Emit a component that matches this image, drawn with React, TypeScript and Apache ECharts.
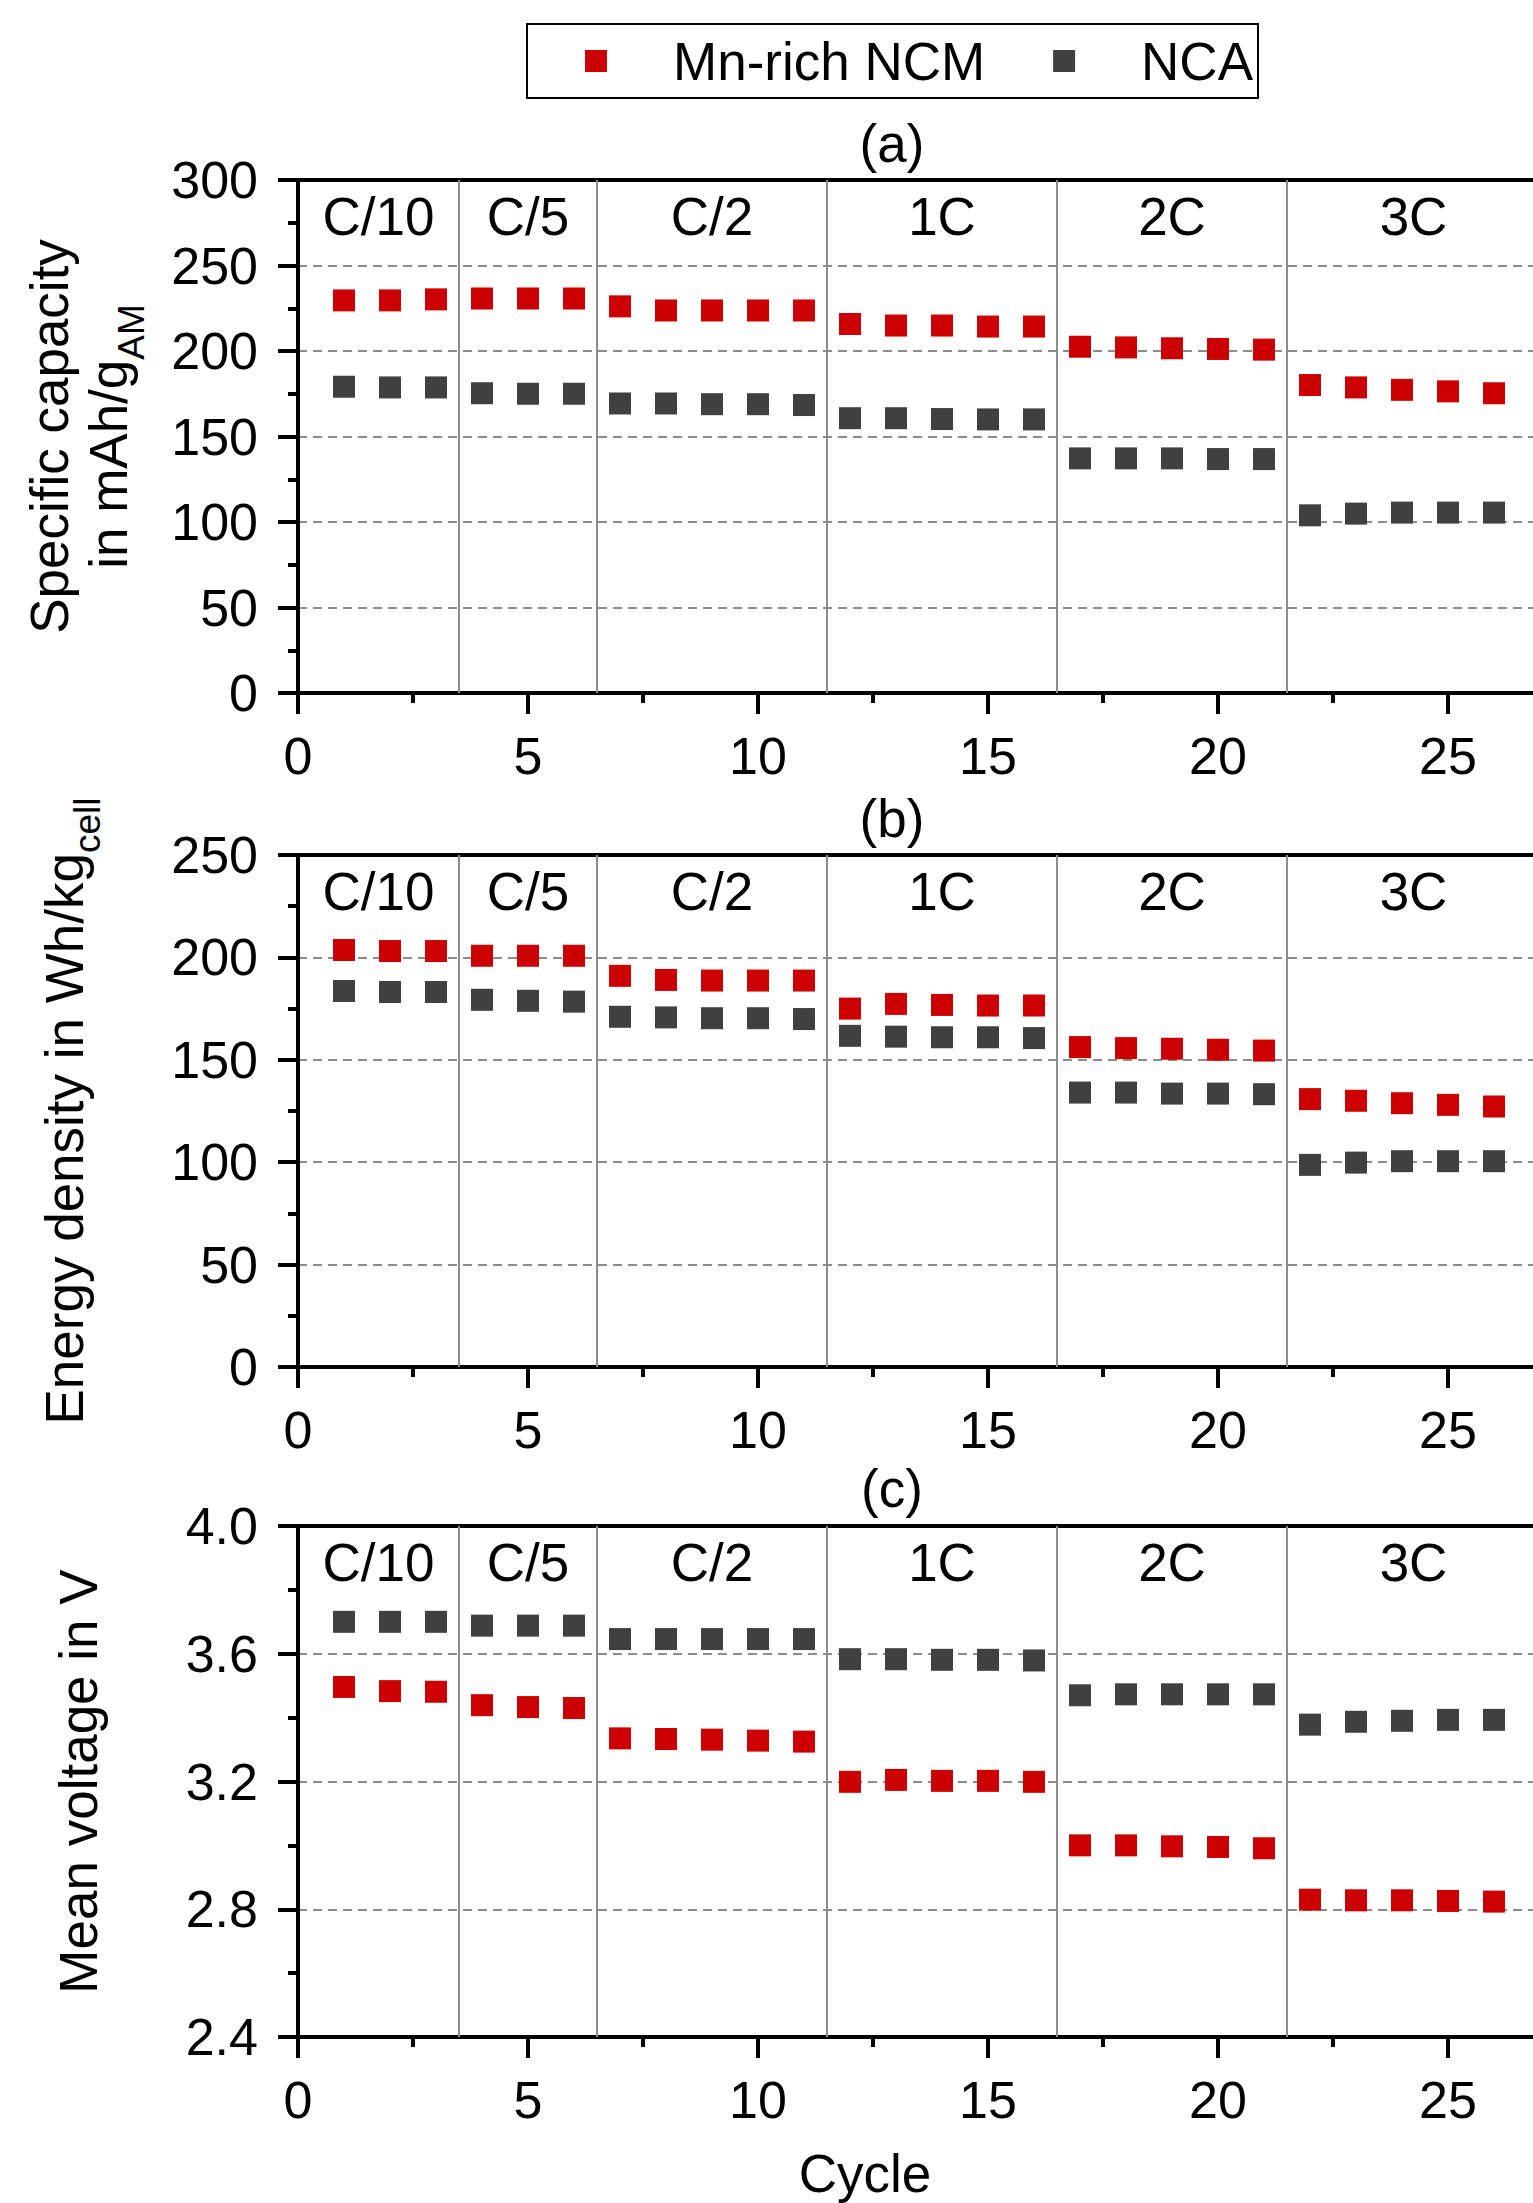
import React, { useEffect, useRef } from "react";
import * as echarts from "echarts";

// ---------------- data ----------------
const cycles = [1, 2, 3, 4, 5, 6, 7, 8, 9, 10, 11, 12, 13, 14, 15, 16, 17, 18, 19, 20, 21, 22, 23, 24, 25, 26];

const capacityNCM = [229.6, 229.6, 230.2, 230.7, 230.7, 230.7, 226.1, 223.7, 223.7, 223.7, 223.7, 215.8, 214.9, 214.9, 214.3, 214.3, 202.5, 202.1, 201.6, 201.2, 200.8, 180.1, 178.7, 177.3, 176.4, 175.3];
const capacityNCA = [179.1, 178.7, 178.7, 175.3, 175.0, 175.0, 169.3, 169.3, 168.9, 168.9, 168.4, 160.7, 160.7, 160.2, 160.0, 160.0, 137.2, 137.2, 137.2, 136.8, 136.8, 103.9, 104.9, 105.5, 105.5, 105.5];

const energyNCM = [203.6, 203.1, 203.1, 200.8, 200.8, 200.8, 191.0, 189.0, 188.7, 188.7, 188.7, 175.0, 177.3, 176.8, 176.5, 176.5, 156.2, 155.7, 155.4, 154.9, 154.5, 130.8, 130.0, 128.8, 128.0, 127.2];
const energyNCA = [183.6, 183.1, 183.1, 179.3, 178.8, 178.4, 171.0, 170.7, 170.3, 170.3, 169.9, 161.7, 161.3, 161.0, 161.0, 160.6, 134.0, 134.0, 133.5, 133.5, 133.2, 98.7, 99.8, 100.5, 100.5, 100.5];

const voltageNCM = [3.496, 3.483, 3.481, 3.439, 3.433, 3.43, 3.335, 3.333, 3.331, 3.328, 3.325, 3.199, 3.205, 3.202, 3.202, 3.199, 3.0, 3.0, 2.997, 2.995, 2.991, 2.83, 2.828, 2.828, 2.826, 2.824];
const voltageNCA = [3.7, 3.7, 3.7, 3.688, 3.688, 3.688, 3.646, 3.646, 3.646, 3.646, 3.646, 3.583, 3.583, 3.581, 3.581, 3.579, 3.47, 3.473, 3.473, 3.473, 3.473, 3.378, 3.387, 3.39, 3.393, 3.393];

const rateLabels = ["C/10", "C/5", "C/2", "1C", "2C", "3C"];
const rateBoundaries = [3.5, 6.5, 11.5, 16.5, 21.5];
const seriesNames = ["Mn-rich NCM", "NCA"];
const panelLabels = ["(a)", "(b)", "(c)"];

// ---------------- style ----------------
const FONT = "'Liberation Sans', Arial, sans-serif";
const RED = "#CC0000";
const GREY = "#404040";
const SEP = "#8c8c8c";

const panels = [
  {
    top: 180, height: 513, min: 0, max: 300, interval: 50, ncm: capacityNCM, nca: capacityNCA,
    name: "{m|Specific capacity}\n{m|in mAh/g}{s|AM}", nameGap: 160, fmt: (v: number) => String(v),
    labelY: 143,
  },
  {
    top: 855, height: 512, min: 0, max: 250, interval: 50, ncm: energyNCM, nca: energyNCA,
    name: "{m|Energy density in Wh/kg}{s|cell}", nameGap: 204, fmt: (v: number) => String(v),
    labelY: 818,
  },
  {
    top: 1526, height: 511, min: 2.4, max: 4.0, interval: 0.4, ncm: voltageNCM, nca: voltageNCA,
    name: "{m|Mean voltage in V}", nameGap: 190, fmt: (v: number) => v.toFixed(1),
    labelY: 1488,
  },
];

const X_MAX = 30;
const GRID_LEFT = 298;
const PX_PER_CYCLE = 46;
const CANVAS_W = 1760;

function buildOption() {
  const edges = [cycles[0] - 1, ...rateBoundaries, cycles[cycles.length - 1] + 1];
  const mids = rateLabels.map((_, i) => (edges[i] + edges[i + 1]) / 2);

  const grid: any[] = [];
  const xAxis: any[] = [];
  const yAxis: any[] = [];
  const series: any[] = [];

  panels.forEach((p, i) => {
    grid.push({ left: GRID_LEFT, top: p.top, width: X_MAX * PX_PER_CYCLE, height: p.height, containLabel: false });
    xAxis.push({
      type: "value", gridIndex: i, min: 0, max: X_MAX, interval: 5, position: "bottom",
      axisLine: { show: true, onZero: false, lineStyle: { color: "#000", width: 4 } },
      axisTick: { show: true, inside: false, length: 21, lineStyle: { color: "#000", width: 4 } },
      minorTick: { show: true, splitNumber: 2, length: 10, lineStyle: { color: "#000", width: 4 } },
      axisLabel: { show: true, margin: 37, fontSize: 52, color: "#000", fontFamily: FONT, showMaxLabel: false },
      splitLine: { show: false },
      ...(i === 2
        ? {
            name: "Cycle", nameLocation: "middle", nameGap: 110,
            nameTextStyle: { fontSize: 53, color: "#000", fontFamily: FONT, padding: [0, 246, 0, 0] },
          }
        : {}),
    });
    yAxis.push({
      type: "value", gridIndex: i, min: p.min, max: p.max, interval: p.interval, position: "left",
      axisLine: { show: true, onZero: false, lineStyle: { color: "#000", width: 4 } },
      axisTick: { show: true, inside: false, length: 20, lineStyle: { color: "#000", width: 4 } },
      minorTick: { show: true, splitNumber: 2, length: 10, lineStyle: { color: "#000", width: 4 } },
      axisLabel: { show: true, margin: 40, fontSize: 52, color: "#000", fontFamily: FONT, formatter: p.fmt },
      splitLine: { show: true, lineStyle: { color: SEP, width: 2, type: [9, 6] } },
      name: p.name, nameLocation: "middle", nameRotate: 90, nameGap: p.nameGap,
      nameTextStyle: {
        fontSize: 53, color: "#000", fontFamily: FONT, lineHeight: 59,
        rich: {
          m: { fontSize: 53, lineHeight: 59, color: "#000", fontFamily: FONT },
          s: { fontSize: 37, lineHeight: 10, padding: [45, 0, 0, 0], color: "#000", fontFamily: FONT },
        },
      },
    });

    series.push({
      name: seriesNames[0], type: "scatter", xAxisIndex: i, yAxisIndex: i,
      symbol: "rect", symbolSize: 22, itemStyle: { color: RED, opacity: 1 },
      data: cycles.map((c, k) => [c, p.ncm[k]]),
      z: 3,
      markLine: {
        silent: true, symbol: ["none", "none"], label: { show: false },
        lineStyle: { color: SEP, width: 2, type: "solid", opacity: 1 },
        emphasis: { disabled: true },
        data: rateBoundaries.map((b) => ({ xAxis: b })),
      },
    });
    series.push({
      name: seriesNames[1], type: "scatter", xAxisIndex: i, yAxisIndex: i,
      symbol: "rect", symbolSize: 22, itemStyle: { color: GREY, opacity: 1 },
      data: cycles.map((c, k) => [c, p.nca[k]]),
      z: 3,
    });
    series.push({
      name: "rates-" + i, type: "scatter", xAxisIndex: i, yAxisIndex: i,
      symbolSize: 1, itemStyle: { color: "#fff", opacity: 0 }, silent: true, clip: false,
      data: mids.map((m, k) => ({ value: [m, p.max], name: rateLabels[k] })),
      label: {
        show: true, formatter: "{b}", position: "inside", offset: [0, 36],
        fontSize: 53, color: "#000", opacity: 1, fontFamily: FONT,
      },
      z: 4,
    });
  });

  // top frame lines
  panels.forEach((p, i) => {
    xAxis.push({
      type: "value", gridIndex: i, min: 0, max: X_MAX, position: "top",
      axisLine: { show: true, onZero: false, lineStyle: { color: "#000", width: 4 } },
      axisTick: { show: false }, axisLabel: { show: false }, splitLine: { show: false },
    });
  });

  const graphic = panels.map((p, i) => ({
    type: "text", x: 892, y: p.labelY,
    style: { text: panelLabels[i], fontSize: 53, fill: "#000", fontFamily: FONT, textAlign: "center", textVerticalAlign: "middle" },
  }));

  return {
    animation: false,
    backgroundColor: "#fff",
    textStyle: { fontFamily: FONT },
    legend: {
      data: seriesNames, left: 527, top: 24, orient: "horizontal",
      icon: "rect", itemWidth: 22, itemHeight: 22, itemGap: 68,
      padding: [7, 5, 7, 58], borderColor: "#000", borderWidth: 2, backgroundColor: "#fff",
      selectedMode: false,
      itemStyle: { opacity: 1 },
      textStyle: { fontSize: 53, color: "#000", fontFamily: FONT, padding: [0, 0, 0, 61], lineHeight: 60 },
    },
    grid, xAxis, yAxis, series, graphic,
  };
}

export default function App() {
  const ref = useRef<HTMLDivElement>(null);
  useEffect(() => {
    if (!ref.current) return;
    const chart = echarts.init(ref.current, null, { renderer: "svg" });
    chart.setOption(buildOption() as any);
    return () => chart.dispose();
  }, []);
  return (
    <div style={{ position: "absolute", left: 0, top: 0, width: 1533, height: 2203, overflow: "hidden", background: "#fff" }}>
      <div ref={ref} style={{ width: CANVAS_W, height: 2203 }} />
    </div>
  );
}
